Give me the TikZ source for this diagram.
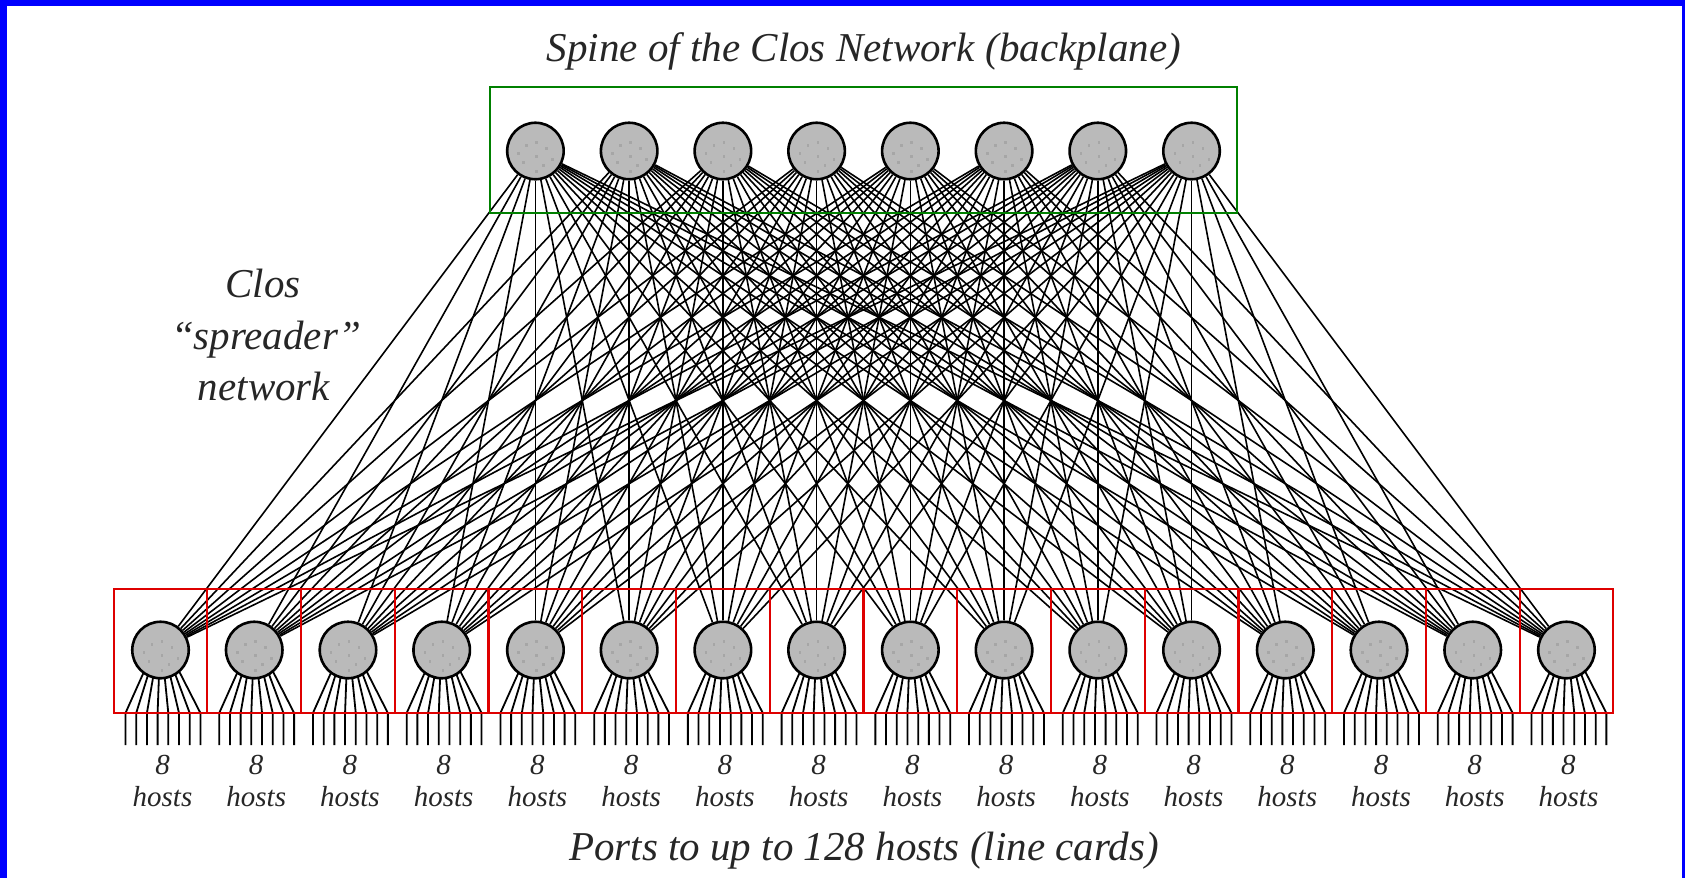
\documentclass[tikz,border=0pt]{standalone}
\usepackage{fontspec}
\setmainfont{Liberation Serif}
\usetikzlibrary{calc,backgrounds}
\definecolor{spinegreen}{RGB}{0,128,0}
\definecolor{cardred}{RGB}{222,0,0}
\definecolor{frameblue}{RGB}{0,0,255}
\definecolor{switchgray}{RGB}{186,186,186}
\definecolor{speckle}{RGB}{166,166,166}

\begin{document}
\begin{tikzpicture}[x=1pt,y=-1pt,
  switch/.style={circle, draw=black, line width=2.6pt, fill=switchgray,
    minimum size=56.5pt, inner sep=0pt,
    path picture={
      \foreach \dx/\dy in {-9/-6,1/-9,11/-3,-17/2,1/5,17/8,-12/11,8/14,1/20}
        \fill[speckle] ($(path picture bounding box.center)+(\dx-1,\dy-1)$) rectangle ++(2.5,2.5);
    }},
  link/.style={line width=1.6pt, black},
  hostline/.style={line width=1.8pt, black},
  bigtext/.style={font=\fontsize{41}{49}\selectfont\itshape, inner sep=0pt, anchor=base, text=black!85},
  hosttext/.style={font=\fontsize{29}{35}\selectfont\itshape, inner sep=0pt, anchor=base, text=black!85},
  cardbox/.style={draw=cardred, line width=2.2pt},
  spinebox/.style={draw=spinegreen, line width=2.2pt}
]
\useasboundingbox (0,0) rectangle (1685,878);

% frame
\fill[frameblue] (0,0) rectangle (7,878);
\fill[frameblue] (0,0) rectangle (1685,6);
\fill[frameblue] (1682,0) rectangle (1685,878);

% leaf switches (line cards) and spine switches
\foreach \j in {1,...,16}
  \node[switch] (l\j) at ({160.5+(\j-1)*93.73},650) {};
\foreach \i in {1,...,8}
  \node[switch] (s\i) at ({160.5+(\i+3)*93.73},151) {};

% spine enclosure
\draw[spinebox] (490,87) rectangle (1237,213);

% line card enclosures
\foreach \j in {1,...,16}
  \draw[cardbox] ($(l\j)+(-46.87,-61)$) rectangle ($(l\j)+(46.87,63)$);

\begin{pgfonlayer}{background}
  % spreader network: every leaf to every spine
  \foreach \i in {1,...,8}{
    \foreach \j in {1,...,16}{
      \draw[link] (s\i) -- (l\j);
    }
  }
  % host ports
  \foreach \j in {1,...,16}{
    \foreach \k in {0,...,7}{
      \pgfmathsetmacro\o{-35+\k*10.7}
      \draw[hostline] ($(l\j)+({0.45*\o},20)$) -- ($(l\j)+(\o,63)$) -- ++(0,32);
    }
  }
\end{pgfonlayer}

% host labels
\foreach \j in {1,...,16}{
  \node[hosttext] (n\j) at ($(l\j)+(2,124)$) {8};
  \node[hosttext] (h\j) at ($(l\j)+(2,156)$) {hosts};
}

% captions
\node[bigtext] (spinetitle) at (864,61) {Spine of the Clos Network (backplane)};
\node[bigtext] (porttitle) at (864,860) {Ports to up to 128 hosts (line cards)};
\node[bigtext] (closa) at (263,297) {Clos};
\node[bigtext] (closb) at (266,349) {“spreader”};
\node[bigtext] (closc) at (264,400) {network};
\end{tikzpicture}
\end{document}
